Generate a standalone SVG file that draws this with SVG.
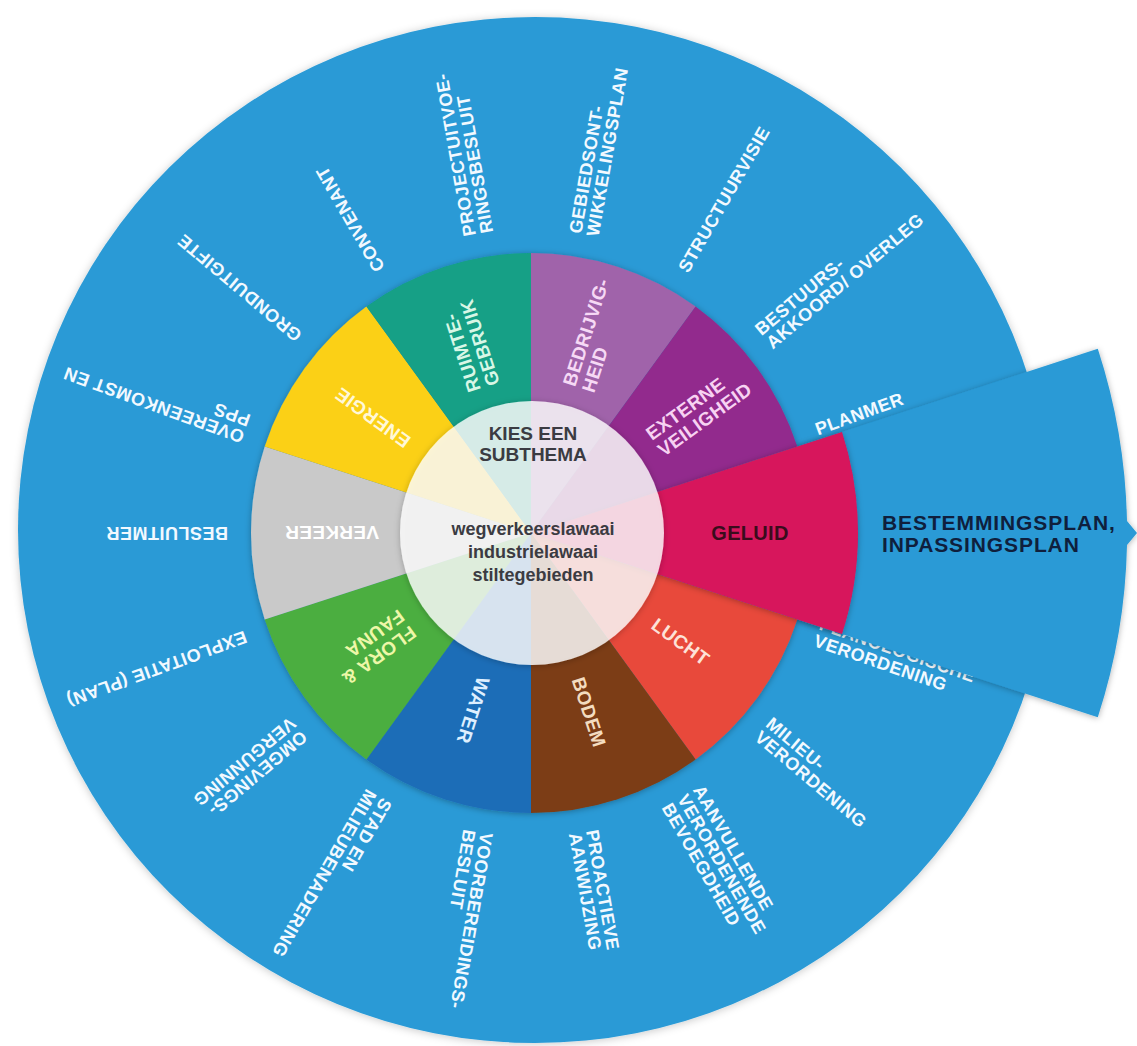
<svg xmlns="http://www.w3.org/2000/svg" width="1137" height="1046" viewBox="0 0 1137 1046">
<defs>
<style>
.o{font-family:"Liberation Sans",Arial,sans-serif;font-weight:bold;font-size:18px;letter-spacing:0.5px;fill:#f2f9ff}
.i{font-family:"Liberation Sans",Arial,sans-serif;font-weight:bold;font-size:19px;letter-spacing:0.3px}
.c{font-family:"Liberation Sans",Arial,sans-serif;font-weight:bold;fill:#3b3b42;text-anchor:middle}
.t{font-family:"Liberation Sans",Arial,sans-serif;font-weight:bold;font-size:21px;letter-spacing:0.9px;fill:#0f1f3d}
</style>
<filter id="soft" x="-5%" y="-5%" width="110%" height="110%"><feDropShadow dx="0" dy="1" stdDeviation="4" flood-color="#000" flood-opacity="0.22"/></filter>
<filter id="sh" x="-10%" y="-10%" width="120%" height="120%"><feDropShadow dx="0" dy="1" stdDeviation="3" flood-color="#000" flood-opacity="0.3"/></filter>
</defs>
<rect width="1137" height="1046" fill="#ffffff"/>
<g id="disc"><ellipse cx="535" cy="530" rx="517" ry="513" fill="#2a9ad6" filter="url(#soft)"/></g>
<g id="connectors"/>
<g id="instruments">
<g id="lbl-projectuitvoeringsbesluit" transform="rotate(260 531 533)"><text class="o" x="834" y="530.5">PROJECTUITVOE-</text><text class="o" x="834" y="548">RINGSBESLUIT</text></g>
<g id="lbl-gebiedsontwikkelingsplan" transform="rotate(-80 531 533)"><text class="o" x="834" y="530.5">GEBIEDSONT-</text><text class="o" x="834" y="548">WIKKELINGSPLAN</text></g>
<g id="lbl-structuurvisie" transform="rotate(-60 531 533)"><text class="o" x="834" y="539.5">STRUCTUURVISIE</text></g>
<g id="lbl-bestuursakkoord" transform="rotate(-40 531 533)"><text class="o" x="834" y="530.5">BESTUURS-</text><text class="o" x="834" y="548">AKKOORD/ OVERLEG</text></g>
<g id="lbl-planmer" transform="rotate(-20 531 533)"><text class="o" x="834" y="539.5">PLANMER</text></g>
<g id="lbl-planologische" transform="rotate(19 531 533)"><text class="o" x="834" y="530.5">PLANOLOGISCHE</text><text class="o" x="834" y="548">VERORDENING</text></g>
<g id="lbl-milieuverordening" transform="rotate(40 531 533)"><text class="o" x="834" y="530.5">MILIEU-</text><text class="o" x="834" y="548">VERORDENING</text></g>
<g id="lbl-aanvullende" transform="rotate(60 531 533)"><text class="o" x="834" y="521.5">AANVULLENDE</text><text class="o" x="834" y="539.5">VERORDENENDE</text><text class="o" x="834" y="557.5">BEVOEGDHEID</text></g>
<g id="lbl-proactieve" transform="rotate(80 531 533)"><text class="o" x="834" y="530.5">PROACTIEVE</text><text class="o" x="834" y="548">AANWIJZING</text></g>
<g id="lbl-voorbereidingsbesluit" transform="rotate(100 531 533)"><text class="o" x="834" y="530.5">VOORBEREIDINGS-</text><text class="o" x="834" y="548">BESLUIT</text></g>
<g id="lbl-stadenmilieu" transform="rotate(120 531 533)"><text class="o" x="834" y="530.5">STAD EN</text><text class="o" x="834" y="548">MILIEUBENADERING</text></g>
<g id="lbl-omgevingsvergunning" transform="rotate(140 531 533)"><text class="o" x="834" y="530.5">OMGEVINGS-</text><text class="o" x="834" y="548">VERGUNNING</text></g>
<g id="lbl-exploitatieplan" transform="rotate(160 531 533)"><text class="o" x="834" y="539.5">EXPLOITATIE (PLAN)</text></g>
<g id="lbl-besluitmer" transform="rotate(180 531 533)"><text class="o" x="834" y="539.5">BESLUITMER</text></g>
<g id="lbl-overeenkomst" transform="rotate(200 531 533)"><text class="o" x="834" y="530.5">OVEREENKOMST EN</text><text class="o" x="834" y="548">PPS</text></g>
<g id="lbl-gronduitgifte" transform="rotate(220 531 533)"><text class="o" x="834" y="539.5">GRONDUITGIFTE</text></g>
<g id="lbl-convenant" transform="rotate(240 531 533)"><text class="o" x="834" y="539.5">CONVENANT</text></g>
</g>
<g id="tab-bestemmingsplan">
<path d="M531,533 L1097.8,348.8 A596,596 0 0 1 1127,521 L1137,533 L1127,545 A596,596 0 0 1 1097.8,717.2 Z" fill="#2a9ad6" filter="url(#sh)"/>
<text class="t" x="882" y="530">BESTEMMINGSPLAN,</text>
<text class="t" x="882" y="552">INPASSINGSPLAN</text>
</g>
<g id="ring" filter="url(#sh)">
<path id="seg-bedrijvigheid" d="M531,533 L531,253 A280,280 0 0 1 695.6,306.5 Z" fill="#a063aa"/>
<path id="seg-externe" d="M531,533 L695.6,306.5 A280,280 0 0 1 797.3,446.5 Z" fill="#922b8d"/>
<path id="seg-lucht" d="M531,533 L797.3,619.5 A280,280 0 0 1 695.6,759.5 Z" fill="#e8493b"/>
<path id="seg-bodem" d="M531,533 L695.6,759.5 A280,280 0 0 1 531,813 Z" fill="#7c3e16"/>
<path id="seg-water" d="M531,533 L531,813 A280,280 0 0 1 366.4,759.5 Z" fill="#1f6db7"/>
<path id="seg-flora" d="M531,533 L366.4,759.5 A280,280 0 0 1 264.7,619.5 Z" fill="#4cae3f"/>
<path id="seg-verkeer" d="M531,533 L264.7,619.5 A280,280 0 0 1 264.7,446.5 Z" fill="#c9c9c9"/>
<path id="seg-energie" d="M531,533 L264.7,446.5 A280,280 0 0 1 366.4,306.5 Z" fill="#fbd018"/>
<path id="seg-ruimte" d="M531,533 L366.4,306.5 A280,280 0 0 1 531,253 Z" fill="#14a086"/>
</g>
<g id="seg-geluid" filter="url(#sh)">
<path d="M531,533 L842,432 A327,327 0 0 1 842,634 Z" fill="#d7145c"/>
</g>
<g id="center" filter="url(#sh)">
<circle cx="532" cy="533" r="132" fill="#ffffff" fill-opacity="0.8"/>
</g>
<g id="segment-labels">
<g id="t-bedrijvigheid" transform="rotate(-72 531 533)"><text class="i" x="683" y="529.8" fill="#f6d9f5">BEDRIJVIG-</text><text class="i" x="683" y="549.8" fill="#f6d9f5">HEID</text></g>
<g id="t-externe" transform="rotate(-36 531 533)"><text class="i" x="683" y="529.8" fill="#f7d2f2">EXTERNE</text><text class="i" x="683" y="549.8" fill="#f7d2f2">VEILIGHEID</text></g>
<g id="t-geluid"><text class="i" x="750" y="540" fill="#3a0c1c" text-anchor="middle" style="font-size:20px">GELUID</text></g>
<g id="t-lucht" transform="rotate(36 531 533)"><text class="i" x="683" y="539.8" fill="#fde2d8">LUCHT</text></g>
<g id="t-bodem" transform="rotate(72 531 533)"><text class="i" x="683" y="539.8" fill="#f3dcc0">BODEM</text></g>
<g id="t-water" transform="rotate(108 531 533)"><text class="i" x="683" y="539.8" fill="#deefff">WATER</text></g>
<g id="t-flora" transform="rotate(144 531 533)"><text class="i" x="683" y="529.8" fill="#eef7a8">FLORA &amp;</text><text class="i" x="683" y="549.8" fill="#eef7a8">FAUNA</text></g>
<g id="t-verkeer" transform="rotate(180 531 533)"><text class="i" x="683" y="539.8" fill="#ffffff">VERKEER</text></g>
<g id="t-energie" transform="rotate(216 531 533)"><text class="i" x="683" y="539.8" fill="#fff8d8">ENERGIE</text></g>
<g id="t-ruimte" transform="rotate(252 531 533)"><text class="i" x="683" y="529.8" fill="#d8f7e6">RUIMTE-</text><text class="i" x="683" y="549.8" fill="#d8f7e6">GEBRUIK</text></g>
</g>
<g id="center-text">
<text class="c" x="533" y="440" style="font-size:19px">KIES EEN</text>
<text class="c" x="533" y="461" style="font-size:19px">SUBTHEMA</text>
<text class="c" x="533" y="535" style="font-size:18px">wegverkeerslawaai</text>
<text class="c" x="533" y="558" style="font-size:18px">industrielawaai</text>
<text class="c" x="533" y="581" style="font-size:18px">stiltegebieden</text>
</g>
</svg>
